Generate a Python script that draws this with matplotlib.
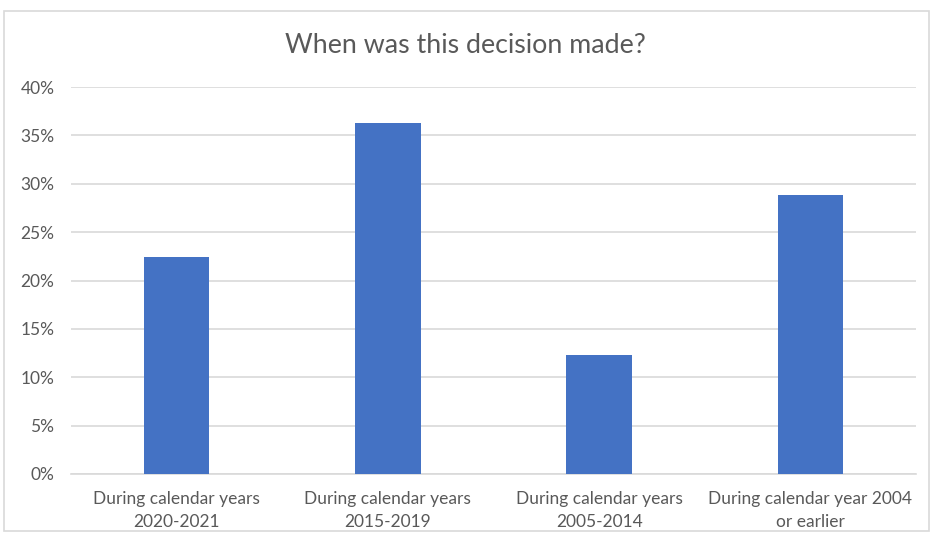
import matplotlib

matplotlib.use("Agg")
import matplotlib.pyplot as plt
from matplotlib.patches import Rectangle
from matplotlib.ticker import FuncFormatter, MultipleLocator

categories = [
    "During calendar years\n2020-2021",
    "During calendar years\n2015-2019",
    "During calendar years\n2005-2014",
    "During calendar year 2004\nor earlier",
]
shares = [22.4, 36.3, 12.3, 28.8]

text_color = "#595959"
grid_color = "#d9d9d9"
bar_color = "#4472C4"

plt.rcParams["font.family"] = ["Lato", "DejaVu Sans"]

fig = plt.figure(figsize=(9.3, 5.38), dpi=100)
ax = fig.add_axes([71 / 930, 1 - 474 / 538, (916 - 71) / 930, (474 - 87) / 538])

# chart frame
fig.patches.append(Rectangle((4 / 930, 1 - 531 / 538), 925 / 930, 520 / 538,
                             transform=fig.transFigure, fill=False,
                             edgecolor=grid_color, linewidth=1.2))

x = range(len(categories))
ax.bar(x, shares, width=0.31, color=bar_color, zorder=3)

ax.set_xlim(-0.5, len(categories) - 0.5)
ax.set_ylim(0, 40)
ax.yaxis.set_major_locator(MultipleLocator(5))
ax.yaxis.set_major_formatter(FuncFormatter(lambda v, _: f"{v:.0f}%"))
ax.grid(axis="y", color=grid_color, linewidth=1.2, zorder=0)

ax.set_xticks(list(x))
ax.set_xticklabels(categories, fontsize=12.5, color=text_color, linespacing=1.55)
ax.tick_params(axis="y", labelsize=12.5, colors=text_color, length=0, pad=12)
ax.tick_params(axis="x", length=0, pad=12)

for side in ("top", "right", "left"):
    ax.spines[side].set_visible(False)
ax.spines["bottom"].set_color(grid_color)
ax.spines["bottom"].set_linewidth(1.2)

fig.text(0.5, 1 - 46 / 538, "When was this decision made?", ha="center", va="center",
         fontsize=19.3, color=text_color)

fig.savefig("out.png", dpi=100)
